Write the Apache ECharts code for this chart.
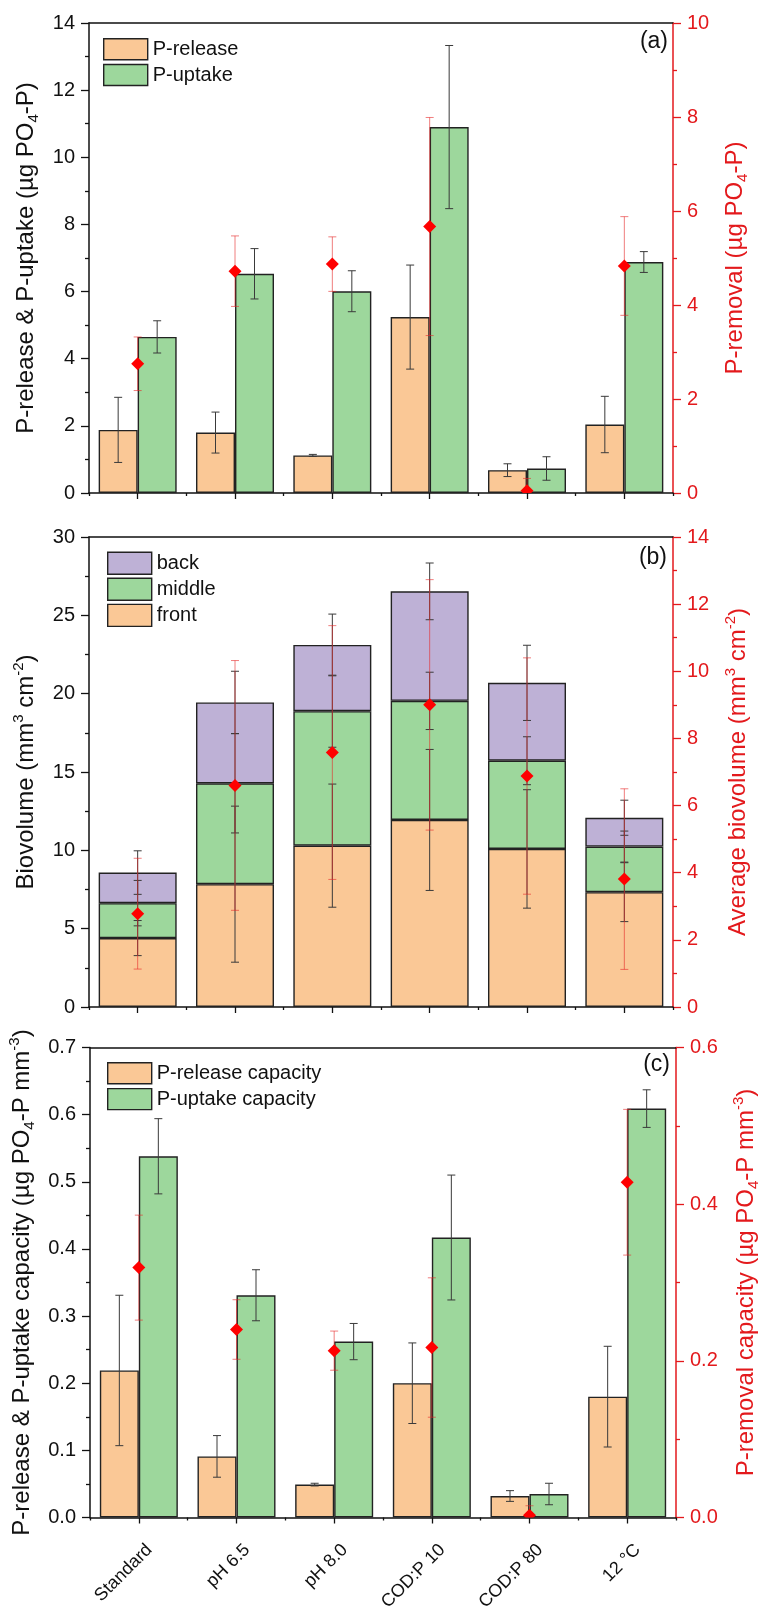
<!DOCTYPE html>
<html>
<head>
<meta charset="utf-8">
<title>Phosphorus release, uptake and biovolume</title>
<script src="https://cdn.jsdelivr.net/npm/echarts@6/dist/echarts.min.js"></script>
<style>
  html, body { margin: 0; padding: 0; background: #fff; }
  #chart { width: 758px; height: 1609px; }
</style>
</head>
<body>
<div id="chart"></div>
<script>
// Experimental conditions
const categories = ['Standard', 'pH 6.5', 'pH 8.0', 'COD:P 10', 'COD:P 80', '12 °C'];

// (a) P-release / P-uptake (µg PO4-P) and P-removal
const releaseA    = [1.88, 1.80, 1.12, 5.24, 0.68, 2.04];
const releaseAErr = [0.97, 0.61, 0.03, 1.55, 0.19, 0.84];
const uptakeA     = [4.65, 6.53, 6.01, 10.90, 0.73, 6.88];
const uptakeAErr  = [0.48, 0.75, 0.61, 2.43, 0.35, 0.31];
const removalA    = [2.75, 4.72, 4.87, 5.67, 0.05, 4.83];
const removalAErr = [0.57, 0.75, 0.58, 2.32, 0.26, 1.05];

// (b) Biovolume per section (mm3 cm-2), stacked, and average biovolume
const frontB     = [4.40, 7.84, 10.30, 11.94, 10.09, 7.33];
const frontBErr  = [1.12, 4.98, 3.93, 4.50, 3.78, 1.88];
const middleB    = [2.23, 6.44, 8.58, 7.60, 5.63, 2.91];
const middleBErr = [1.45, 3.17, 2.30, 1.83, 1.53, 0.99];
const backB      = [1.95, 5.16, 4.23, 6.99, 4.97, 1.84];
const backBErr   = [1.39, 1.99, 1.97, 1.81, 2.40, 1.12];
const avgB       = [2.78, 6.60, 7.58, 9.00, 6.88, 3.81];
const avgBErr    = [1.65, 3.72, 3.78, 3.73, 3.52, 2.69];

// (c) Capacities (µg PO4-P mm-3)
const releaseC    = [0.219, 0.091, 0.049, 0.200, 0.032, 0.180];
const releaseCErr = [0.112, 0.031, 0.002, 0.060, 0.008, 0.075];
const uptakeC     = [0.538, 0.331, 0.262, 0.417, 0.035, 0.609];
const uptakeCErr  = [0.056, 0.038, 0.027, 0.093, 0.016, 0.028];
const removalC    = [0.319, 0.240, 0.213, 0.217, 0.003, 0.428];
const removalCErr = [0.067, 0.038, 0.025, 0.089, 0.012, 0.093];

// Axis tick settings
const ticksA  = { left: { max: 14, interval: 2 }, right: { max: 10, interval: 2 } };
const ticksB  = { left: { max: 30, interval: 5 }, right: { max: 14, interval: 2 } };
const ticksC  = { left: { max: 0.7, interval: 0.1 }, right: { max: 0.6, interval: 0.2 } };

const FONT = 'Liberation Sans, Arial, Helvetica, sans-serif';
const INK = '#111111';
const RED = '#E3191C';
const ORANGE = '#FAC896';
const GREEN = '#9DD79C';
const PURPLE = '#BEB1D6';
const EDGE = '#222222';

const nameRich = {
  sub: { fontSize: 15, lineHeight: 15, verticalAlign: 'bottom' },
  sup: { fontSize: 15, lineHeight: 15, verticalAlign: 'top' }
};

function nameStyle(color) {
  return { fontFamily: FONT, fontSize: 24, color: color, lineHeight: 30, rich: nameRich };
}

function xAxesFor(gridIndex, showLabels) {
  return [
    {
      type: 'category', gridIndex, data: categories, position: 'bottom',
      axisLine: { show: true, lineStyle: { color: INK, width: 1.5 } },
      axisTick: { show: true, alignWithLabel: true, length: 6, lineStyle: { color: INK, width: 1.3 } },
      axisLabel: showLabels ? {
        show: true, rotate: 45, fontFamily: FONT, fontSize: 18, color: INK, margin: 19,
        verticalAlign: 'top', padding: [6, 0, 0, 0], interval: 0
      } : { show: false },
      splitLine: { show: false }
    },
    {
      type: 'category', gridIndex, data: categories, position: 'bottom',
      axisLine: { show: false },
      axisTick: { show: true, length: 3, lineStyle: { color: INK, width: 1.3 } },
      axisLabel: { show: false },
      splitLine: { show: false }
    },
    {
      type: 'category', gridIndex, data: categories, position: 'top',
      axisLine: { show: true, lineStyle: { color: INK, width: 1.5 } },
      axisTick: { show: false },
      axisLabel: { show: false },
      splitLine: { show: false }
    }
  ];
}

function yAxisFor(gridIndex, side, ticks, name, gap, decimals) {
  const color = side === 'left' ? INK : RED;
  return {
    type: 'value', gridIndex, position: side, min: 0, max: ticks.max, interval: ticks.interval,
    name: name, nameLocation: 'middle', nameGap: gap, nameTextStyle: nameStyle(color),
    axisLine: { show: true, lineStyle: { color: color, width: 1.5 } },
    axisTick: { show: true, inside: false, length: 8, lineStyle: { color: color, width: 1.3 } },
    minorTick: { show: true, splitNumber: 2, length: 4, lineStyle: { color: color, width: 1.3 } },
    axisLabel: {
      fontFamily: FONT, fontSize: 20, color: color, margin: 14,
      formatter: v => v.toFixed(decimals)
    },
    splitLine: { show: false }
  };
}

function barSeries(name, xi, yi, values, color, width, stack) {
  const s = {
    name, type: 'bar', xAxisIndex: xi, yAxisIndex: yi, data: values,
    barWidth: width, barGap: '0%', z: 2, silent: true,
    itemStyle: { color: color, borderColor: EDGE, borderWidth: 1.4 }
  };
  if (stack) s.stack = stack;
  return s;
}

// Whiskers drawn at each value, shifted sideways by dx pixels to sit on its bar
function errorSeries(xi, yi, values, errs, dx, color, z) {
  return {
    type: 'custom', xAxisIndex: xi, yAxisIndex: yi, z: z, clip: true, silent: true,
    data: values.map((v, i) => [i, v, errs[i]]),
    renderItem(params, api) {
      const i = api.value(0), v = api.value(1), e = api.value(2);
      const hi = api.coord([i, v + e]);
      const lo = api.coord([i, v - e]);
      const x = hi[0] + dx, cap = 4;
      const style = { stroke: color, lineWidth: 1 };
      return {
        type: 'group',
        children: [
          { type: 'line', shape: { x1: x, y1: hi[1], x2: x, y2: lo[1] }, style },
          { type: 'line', shape: { x1: x - cap, y1: hi[1], x2: x + cap, y2: hi[1] }, style },
          { type: 'line', shape: { x1: x - cap, y1: lo[1], x2: x + cap, y2: lo[1] }, style }
        ]
      };
    }
  };
}

// Red diamond markers, clipped to the plotting area
function diamondSeries(xi, yi, values) {
  return {
    type: 'custom', xAxisIndex: xi, yAxisIndex: yi, z: 6, clip: true, silent: true,
    data: values.map((v, i) => [i, v]),
    renderItem(params, api) {
      const p = api.coord([api.value(0), api.value(1)]);
      const r = 6.5;
      return {
        type: 'polygon',
        shape: { points: [[p[0], p[1] - r], [p[0] + r, p[1]], [p[0], p[1] + r], [p[0] - r, p[1]]] },
        style: { fill: '#FF0000' }
      };
    }
  };
}

function cumulative(...layers) {
  return layers[0].map((_, i) => layers.reduce((s, l) => s + l[i], 0));
}

const midTopB = cumulative(frontB, middleB);
const backTopB = cumulative(frontB, middleB, backB);

const BLACK_ERR = '#3a3a3a';
const RED_ERR = 'rgba(230, 40, 40, 0.6)';

const legendBase = {
  orient: 'vertical', itemWidth: 44, itemHeight: 21, icon: 'rect',
  itemStyle: { borderColor: EDGE, borderWidth: 1.4 },
  textStyle: { fontFamily: FONT, fontSize: 20, color: INK },
  selectedMode: false
};

// Fixed plotting rectangles; labels may sit close to the page edge
const gridBase = { outerBoundsMode: 'none', containLabel: false };

const option = {
  animation: false,
  backgroundColor: '#ffffff',
  grid: [
    Object.assign({}, gridBase, { left: 89, top: 23, width: 584, height: 470 }),
    Object.assign({}, gridBase, { left: 89, top: 537, width: 584, height: 470 }),
    Object.assign({}, gridBase, { left: 90, top: 1047.5, width: 586, height: 470 })
  ],
  xAxis: [].concat(xAxesFor(0, false), xAxesFor(1, false), xAxesFor(2, true)),
  yAxis: [
    yAxisFor(0, 'left', ticksA.left, 'P-release & P-uptake (µg PO{sub|4}-P)', 44, 0),
    yAxisFor(0, 'right', ticksA.right, 'P-removal (µg PO{sub|4}-P)', 47, 0),
    yAxisFor(1, 'left', ticksB.left, 'Biovolume (mm{sup|3} cm{sup|-2})', 42, 0),
    yAxisFor(1, 'right', ticksB.right, 'Average biovolume (mm{sup|3} cm{sup|-2})', 50, 0),
    yAxisFor(2, 'left', ticksC.left, 'P-release & P-uptake capacity (µg PO{sub|4}-P mm{sup|-3})', 48, 1),
    yAxisFor(2, 'right', ticksC.right, 'P-removal capacity (µg PO{sub|4}-P mm{sup|-3})', 55, 1)
  ],
  legend: [
    Object.assign({}, legendBase, { left: 98, top: 33, itemGap: 3.4, data: ['P-release', 'P-uptake'] }),
    Object.assign({}, legendBase, { left: 102, top: 546.5, itemHeight: 22, itemGap: 2.7, data: ['back', 'middle', 'front'] }),
    Object.assign({}, legendBase, { left: 102, top: 1057, itemGap: 3.5, data: ['P-release capacity', 'P-uptake capacity'] })
  ],
  graphic: [
    { type: 'text', x: 668, y: 42, style: { text: '(a)', font: '23px ' + FONT, fill: INK, align: 'right', verticalAlign: 'middle' } },
    { type: 'text', x: 667, y: 557.5, style: { text: '(b)', font: '23px ' + FONT, fill: INK, align: 'right', verticalAlign: 'middle' } },
    { type: 'text', x: 670, y: 1065, style: { text: '(c)', font: '23px ' + FONT, fill: INK, align: 'right', verticalAlign: 'middle' } }
  ],
  series: [
    // (a)
    barSeries('P-release', 0, 0, releaseA, ORANGE, 39),
    barSeries('P-uptake', 0, 0, uptakeA, GREEN, 39),
    errorSeries(0, 0, releaseA, releaseAErr, -19.5, BLACK_ERR, 3),
    errorSeries(0, 0, uptakeA, uptakeAErr, 19.5, BLACK_ERR, 3),
    errorSeries(0, 1, removalA, removalAErr, 0, RED_ERR, 4),
    diamondSeries(0, 1, removalA),

    // (b)
    barSeries('front', 3, 2, frontB, ORANGE, 78, 'bio'),
    barSeries('middle', 3, 2, middleB, GREEN, 78, 'bio'),
    barSeries('back', 3, 2, backB, PURPLE, 78, 'bio'),
    errorSeries(3, 2, frontB, frontBErr, 0, BLACK_ERR, 3),
    errorSeries(3, 2, midTopB, middleBErr, 0, BLACK_ERR, 3),
    errorSeries(3, 2, backTopB, backBErr, 0, BLACK_ERR, 3),
    errorSeries(3, 3, avgB, avgBErr, 0, RED_ERR, 4),
    diamondSeries(3, 3, avgB),

    // (c)
    barSeries('P-release capacity', 6, 4, releaseC, ORANGE, 39),
    barSeries('P-uptake capacity', 6, 4, uptakeC, GREEN, 39),
    errorSeries(6, 4, releaseC, releaseCErr, -19.5, BLACK_ERR, 3),
    errorSeries(6, 4, uptakeC, uptakeCErr, 19.5, BLACK_ERR, 3),
    errorSeries(6, 5, removalC, removalCErr, 0, RED_ERR, 4),
    diamondSeries(6, 5, removalC)
  ]
};

const chart = echarts.init(document.getElementById('chart'), null, { renderer: 'canvas' });
chart.setOption(option);
</script>
</body>
</html>
